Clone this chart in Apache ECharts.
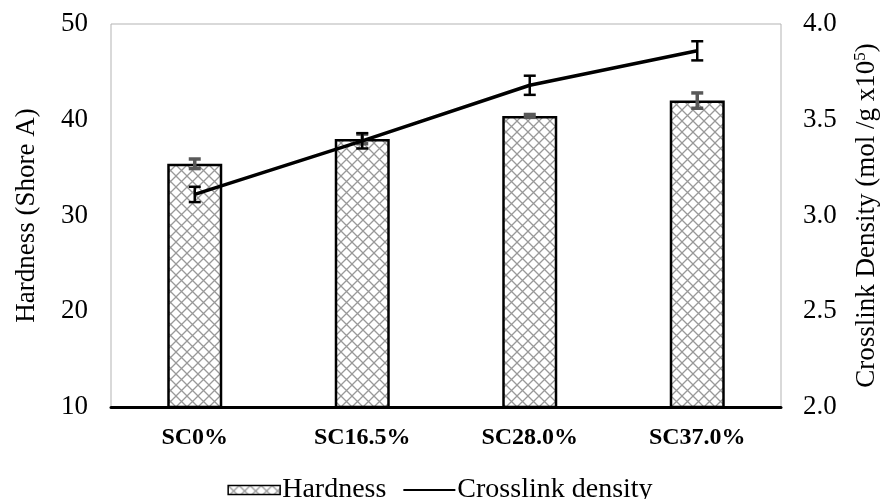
<!DOCTYPE html>
<html>
<head>
<meta charset="utf-8">
<script src="https://cdn.jsdelivr.net/npm/echarts@6/dist/echarts.min.js"></script>
<style>
  html, body { margin: 0; padding: 0; background: #fff; }
  #chart { width: 880px; height: 499px; }
</style>
</head>
<body>
<div id="chart"></div>
<script>
const categories = ['SC0%', 'SC16.5%', 'SC28.0%', 'SC37.0%'];
const hardness = [35.4, 38.0, 40.4, 42.0];
const hardnessErr = [0.5, 0.5, 0.15, 0.8];
const density = [3.11, 3.39, 3.68, 3.86];
const densityErr = [0.04, 0.04, 0.05, 0.05];
const leftTicks = [10, 50, 10];   // min, max, step
const rightTicks = [2.0, 4.0, 0.5];

const FONT = '"Liberation Serif", "Times New Roman", serif';

// crosshatch fill for the hardness bars
function hatch() {
    const c = document.createElement('canvas');
    c.width = 11; c.height = 11;
    const ctx = c.getContext('2d');
    ctx.fillStyle = '#fff';
    ctx.fillRect(0, 0, 11, 11);
    ctx.strokeStyle = '#999';
    ctx.lineWidth = 1.3;
    ctx.beginPath();
    ctx.moveTo(0, 0); ctx.lineTo(11, 11);
    ctx.moveTo(11, 0); ctx.lineTo(0, 11);
    ctx.stroke();
    return c;
}

function errorRows(vals, errs) {
    let rows = [];
    for (let i = 0; i < vals.length; i++) {
        rows.push([i, vals[i] - errs[i], vals[i] + errs[i]]);
    }
    return rows;
}

function errorBar(color, width, cap) {
    return function (params, api) {
        const lo = api.coord([api.value(0), api.value(1)]);
        const hi = api.coord([api.value(0), api.value(2)]);
        const style = { stroke: color, lineWidth: width };
        return {
            type: 'group',
            children: [
                { type: 'line', shape: { x1: lo[0], y1: lo[1], x2: hi[0], y2: hi[1] }, style: style },
                { type: 'line', shape: { x1: lo[0] - cap, y1: lo[1], x2: lo[0] + cap, y2: lo[1] }, style: style },
                { type: 'line', shape: { x1: hi[0] - cap, y1: hi[1], x2: hi[0] + cap, y2: hi[1] }, style: style }
            ]
        };
    };
}

const chart = echarts.init(document.getElementById('chart'));
const pattern = { image: hatch(), repeat: 'repeat' };

const option = {
    animation: false,
    textStyle: { fontFamily: FONT, color: '#000' },
    grid: {
        left: 111, right: 99, top: 24, bottom: 92,
        outerBoundsMode: 'none',
        show: true, borderColor: '#b3b3b3', borderWidth: 1
    },
    legend: {
        top: 471,
        left: 'center',
        itemWidth: 52,
        itemHeight: 9,
        itemGap: 16,
        data: [
            { name: 'Hardness', icon: 'rect', itemStyle: { borderWidth: 1.5 } },
            { name: 'Crosslink density', itemStyle: { color: 'rgba(0,0,0,0)', borderWidth: 0 } }
        ],
        textStyle: { fontFamily: FONT, fontSize: 28, color: '#000', padding: [0, 0, 0, -3] }
    },
    xAxis: {
        type: 'category',
        data: categories,
        axisLine: { lineStyle: { color: '#000', width: 3 } },
        axisTick: { show: false },
        axisLabel: { fontFamily: FONT, fontSize: 24, fontWeight: 'bold', color: '#000', margin: 19 }
    },
    yAxis: [
        {
            type: 'value',
            min: leftTicks[0], max: leftTicks[1], interval: leftTicks[2],
            name: 'Hardness (Shore A)',
            nameLocation: 'middle',
            nameGap: 71,
            nameTextStyle: { fontFamily: FONT, fontSize: 27, color: '#000' },
            axisLine: { show: false },
            axisTick: { show: false },
            splitLine: { show: false },
            axisLabel: { fontFamily: FONT, fontSize: 27, color: '#000', margin: 23 }
        },
        {
            type: 'value',
            min: rightTicks[0], max: rightTicks[1], interval: rightTicks[2],
            name: '{t|Crosslink Density (mol /g x10}{s|5}{t|)}',
            nameLocation: 'middle',
            nameGap: 71,
            nameRotate: 90,
            nameTextStyle: {
                fontFamily: FONT, fontSize: 27, color: '#000',
                rich: {
                    t: { fontFamily: FONT, fontSize: 27, color: '#000' },
                    s: { fontFamily: FONT, fontSize: 17, color: '#000', padding: [0, 0, 12, 0] }
                }
            },
            axisLine: { show: false },
            axisTick: { show: false },
            splitLine: { show: false },
            axisLabel: {
                fontFamily: FONT, fontSize: 27, color: '#000', margin: 22,
                formatter: function (v) { return v.toFixed(1); }
            }
        }
    ],
    series: [
        {
            name: 'Hardness',
            type: 'bar',
            data: hardness,
            barWidth: 55,
            itemStyle: { color: pattern, borderColor: '#000', borderWidth: 2.5 },
            z: 2
        },
        {
            name: 'hardnessErr',
            type: 'custom',
            data: errorRows(hardness, hardnessErr),
            encode: { x: 0, y: [1, 2] },
            renderItem: errorBar('#595959', 3.5, 6),
            z: 3
        },
        {
            name: 'Crosslink density',
            type: 'line',
            yAxisIndex: 1,
            data: density,
            showSymbol: false,
            symbol: 'none',
            lineStyle: { color: '#000', width: 3.5 },
            itemStyle: { color: '#000' },
            z: 4
        },
        {
            name: 'densityErr',
            type: 'custom',
            yAxisIndex: 1,
            data: errorRows(density, densityErr),
            encode: { x: 0, y: [1, 2] },
            renderItem: errorBar('#000', 2.5, 6),
            z: 5
        }
    ]
};

chart.setOption(option);
</script>
</body>
</html>
